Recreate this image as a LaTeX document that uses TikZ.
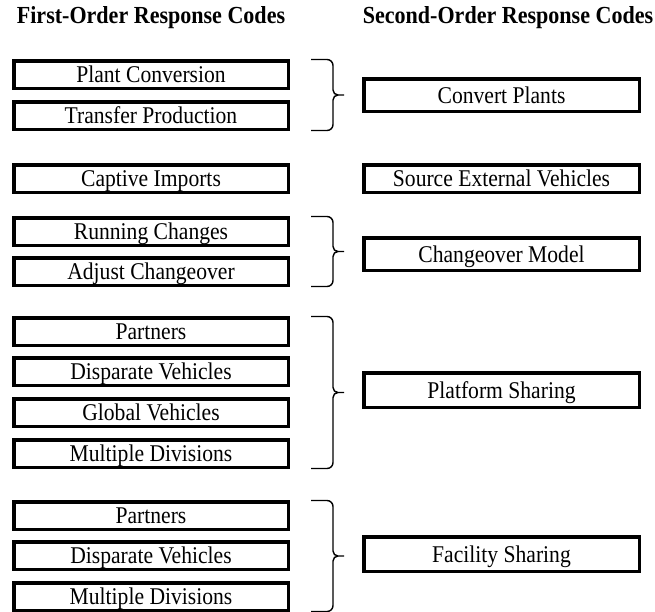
\documentclass[tikz,border=0pt]{standalone}
\usepackage{fontspec}
\setmainfont{Liberation Serif}
\newfontfamily\condfont[FakeStretch=0.9]{Liberation Serif}
\usetikzlibrary{calc}
\tikzset{
  lbox/.style={draw, line width=3.5pt, minimum width=274.5pt, minimum height=27.5pt, inner sep=0pt,
    text height=18pt, text depth=2pt,
    font=\condfont\fontsize{24}{26}\selectfont},
  rbox/.style={draw, line width=3.5pt, minimum width=275.5pt, minimum height=32.5pt, inner sep=0pt,
    text height=18pt, text depth=2pt,
    font=\condfont\fontsize{24}{26}\selectfont},
  hdr/.style={font=\condfont\fontsize{24.5}{26}\selectfont\bfseries, inner sep=0pt},
  brc/.style={draw, line width=1.4pt, line join=miter},
}
\newcommand{\mybrace}[2]{%
  \path let \p1=(#1.north east), \p2=(#2.south east), \n1={0.5*(\y1+\y2)} in
    [brc] (\x1+21pt,\y1-0.5pt) -- (\x1+37pt,\y1-0.5pt) to[out=0,in=90] (\x1+43pt,\y1-6.5pt)
    -- (\x1+43pt,\n1+5pt) to[out=-90,in=180] (\x1+48pt,\n1) -- (\x1+54pt,\n1)
    (\x1+48pt,\n1) to[out=180,in=90] (\x1+43pt,\n1-5pt)
    -- (\x1+43pt,\y2+6.5pt) to[out=-90,in=0] (\x1+37pt,\y2+0.5pt) -- (\x1+21pt,\y2+0.5pt);}
\begin{document}
\begin{tikzpicture}[x=1pt,y=-1pt]
\useasboundingbox (0,0) rectangle (655,611);
\clip (0,0) rectangle (655,611);
\node[hdr] (h1) at (151,18) {First-Order Response Codes};
\node[hdr] (h2) at (508,18) {Second-Order Response Codes};
% left boxes
\node[lbox] (a1) at (151,74.5) {Plant Conversion};
\node[lbox] (a2) at (151,115.5) {Transfer Production};
\node[lbox] (a3) at (151,178.5) {Captive Imports};
\node[lbox] (a4) at (151,231.5) {Running Changes};
\node[lbox] (a5) at (151,271.5) {Adjust Changeover};
\node[lbox] (a6) at (151,331.5) {Partners};
\node[lbox] (a7) at (151,371.5) {Disparate Vehicles};
\node[lbox] (a8) at (151,412.5) {Global Vehicles};
\node[lbox] (a9) at (151,453.5) {Multiple Divisions};
\node[lbox] (a10) at (151,515.5) {Partners};
\node[lbox] (a11) at (151,555.5) {Disparate Vehicles};
\node[lbox] (a12) at (151,596.5) {Multiple Divisions};
% right boxes
\node[rbox] (b1) at (501.5,95) {Convert Plants};
\node[rbox, minimum height=27.5pt] (b2) at (501.5,178.5) {Source External Vehicles};
\node[rbox] (b3) at (501.5,254) {Changeover Model};
\node[rbox, minimum height=34.5pt] (b4) at (501.5,390) {Platform Sharing};
\node[rbox, minimum height=34.5pt] (b5) at (501.5,554) {Facility Sharing};
% braces
\mybrace{a1}{a2}
\mybrace{a4}{a5}
\mybrace{a6}{a9}
\mybrace{a10}{a12}
\end{tikzpicture}
\end{document}
